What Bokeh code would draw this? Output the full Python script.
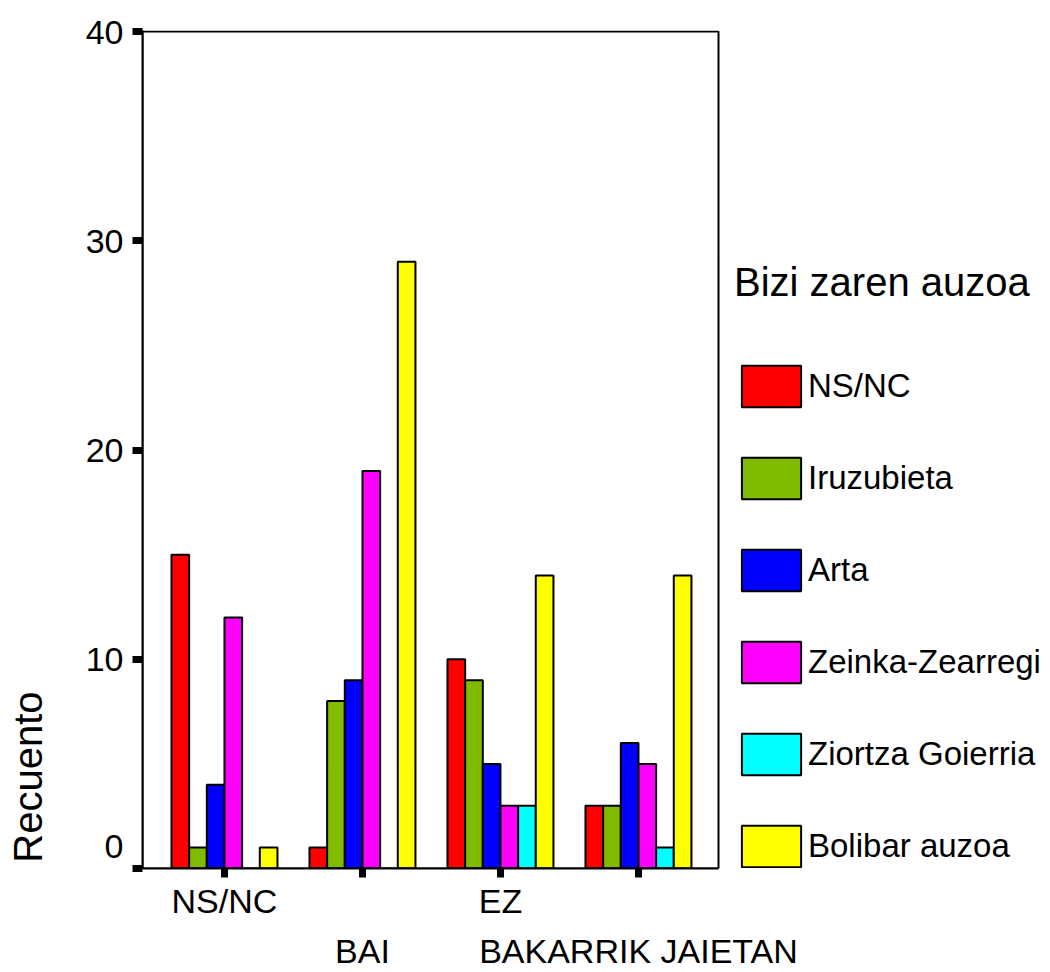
import math
from bokeh.plotting import figure
from bokeh.layouts import row
from bokeh.models import (Range1d, FixedTicker, LinearAxis, Legend, LegendItem,
                          BoxAnnotation, Label, ColumnDataSource)
from bokeh.transform import dodge
from bokeh.embed import file_html
from bokeh.resources import INLINE

# ---- data ----
categories = ["NS/NC", "BAI", "EZ", "BAKARRIK JAIETAN"]
series_names = ["NS/NC", "Iruzubieta", "Arta", "Zeinka-Zearregi",
                "Ziortza Goierria", "Bolibar auzoa"]
ns_nc = [15, 1, 10, 3]
iruzubieta = [1, 8, 9, 3]
arta = [4, 9, 5, 6]
zeinka_zearregi = [12, 19, 3, 5]
ziortza_goierria = [0, 0, 3, 1]
bolibar_auzoa = [1, 29, 14, 14]
colors = ["#FF0000", "#80BB00", "#0000FF", "#FF00FF", "#00FFFF", "#FFFF00"]
y_ticks = [0, 10, 20, 30, 40]
y_title = "Recuento"
legend_title = "Bizi zaren auzoa"

series_values = [ns_nc, iruzubieta, arta, zeinka_zearregi,
                 ziortza_goierria, bolibar_auzoa]

FONT = "Liberation Sans"

source = ColumnDataSource(data=dict(
    idx=list(range(len(categories))),
    **{f"s{j}": v for j, v in enumerate(series_values)}
))

# ---- layout constants (pixels) ----
W, H = 1050, 972
W_TITLE = 60                      # narrow strip holding the y title
ML, MT, MB = 142, 30, 104         # chart box position on the page
PLOT_W = 576                      # width of the boxed chart area
X0, X1 = -0.594, 3.58             # category-index extent of the boxed area
W_MAIN = W - W_TITLE
px_per_unit = PLOT_W / (X1 - X0)
x_end = X0 + (W_MAIN - (ML - W_TITLE)) / px_per_unit
Y_MAX = y_ticks[-1]
y_range = Range1d(0, Y_MAX * 1.0012)

# ---- strip with the y title ----
t = figure(width=W_TITLE, height=H, x_range=Range1d(0, W_TITLE), y_range=y_range,
           output_backend="svg", toolbar_location=None,
           x_axis_type=None, y_axis_type=None,
           min_border_left=0, min_border_right=0,
           min_border_top=MT, min_border_bottom=MB)
t.outline_line_color = None
t.background_fill_color = "white"
t.border_fill_color = "white"
t.add_layout(Label(x=27, y=4.37, text=y_title, angle=math.pi / 2,
                   text_align="center", text_baseline="middle",
                   text_font=FONT, text_font_size="40px", text_color="black"))

# ---- main chart ----
p = figure(width=W_MAIN, height=H,
           x_range=Range1d(X0, x_end), y_range=y_range,
           output_backend="svg", toolbar_location=None,
           x_axis_type=None, y_axis_type=None,
           min_border_left=ML - W_TITLE, min_border_right=0,
           min_border_top=MT, min_border_bottom=MB)
p.outline_line_color = None
p.background_fill_color = "white"
p.border_fill_color = "white"

bw = 0.128
renderers = []
for j, name in enumerate(series_names):
    r = p.vbar(x=dodge("idx", (j - 2.5) * bw, range=p.x_range), top=f"s{j}",
               width=bw, bottom=0, source=source,
               fill_color=colors[j], line_color="black", line_width=2)
    renderers.append(r)

# box around the chart area
p.add_layout(BoxAnnotation(left=X0, right=X1, bottom=0, top=Y_MAX,
                           fill_color=None, fill_alpha=0,
                           line_color="black", line_alpha=1.0, line_width=2))

# y axis ("0" label sits just above its tick, as in the original)
yaxis = LinearAxis(ticker=FixedTicker(ticks=y_ticks, minor_ticks=[]),
                   major_label_overrides={y_ticks[0]: f"{y_ticks[0]}\n"},
                   axis_line_color="black", axis_line_width=2,
                   major_tick_out=10, major_tick_in=0, major_tick_line_width=7,
                   major_tick_line_color="black",
                   minor_tick_out=0, minor_tick_line_color=None,
                   major_label_text_font=FONT, major_label_text_font_size="34px",
                   major_label_text_color="black", major_label_standoff=9)
p.add_layout(yaxis, "left")

# x axis, row 1 (with tick marks)
over1 = {i: (c if i % 2 == 0 else "") for i, c in enumerate(categories)}
xaxis1 = LinearAxis(ticker=FixedTicker(ticks=list(range(len(categories))), minor_ticks=[]),
                    bounds=(X0, X1),
                    major_label_overrides=over1,
                    axis_line_color="black", axis_line_width=2,
                    major_tick_out=9, major_tick_in=0, major_tick_line_width=7,
                    major_tick_line_color="black",
                    minor_tick_out=0, minor_tick_line_color=None,
                    major_label_text_font=FONT, major_label_text_font_size="34px",
                    major_label_text_color="black", major_label_standoff=4)
p.add_layout(xaxis1, "below")

# x axis, row 2 (staggered labels)
odd = [i for i in range(len(categories)) if i % 2 == 1]
over2 = {i: categories[i] for i in odd}
xaxis2 = LinearAxis(ticker=FixedTicker(ticks=odd, minor_ticks=[]),
                    bounds=(X0, X1),
                    major_label_overrides=over2,
                    axis_line_color=None, major_tick_line_color=None,
                    major_tick_out=0, major_tick_in=0,
                    minor_tick_out=0, minor_tick_line_color=None,
                    major_label_text_font=FONT, major_label_text_font_size="34px",
                    major_label_text_color="black", major_label_standoff=9)
p.add_layout(xaxis2, "below")

# legend, to the right of the boxed area
items = [LegendItem(label=n, renderers=[r]) for n, r in zip(series_names, renderers)]
legend = Legend(items=items, location=(592, -4),
                title=legend_title, title_text_font=FONT, title_text_font_size="40px",
                title_text_font_style="normal", title_text_color="black",
                title_standoff=55,
                label_text_font=FONT, label_text_font_size="33px",
                label_text_color="black",
                glyph_width=74, glyph_height=52, label_height=52,
                spacing=40, label_standoff=0,
                padding=0, margin=0,
                border_line_color=None, background_fill_alpha=0)
p.add_layout(legend, "center")

layout = row(t, p, spacing=0)
open("out.html", "w").write(file_html(layout, INLINE))
